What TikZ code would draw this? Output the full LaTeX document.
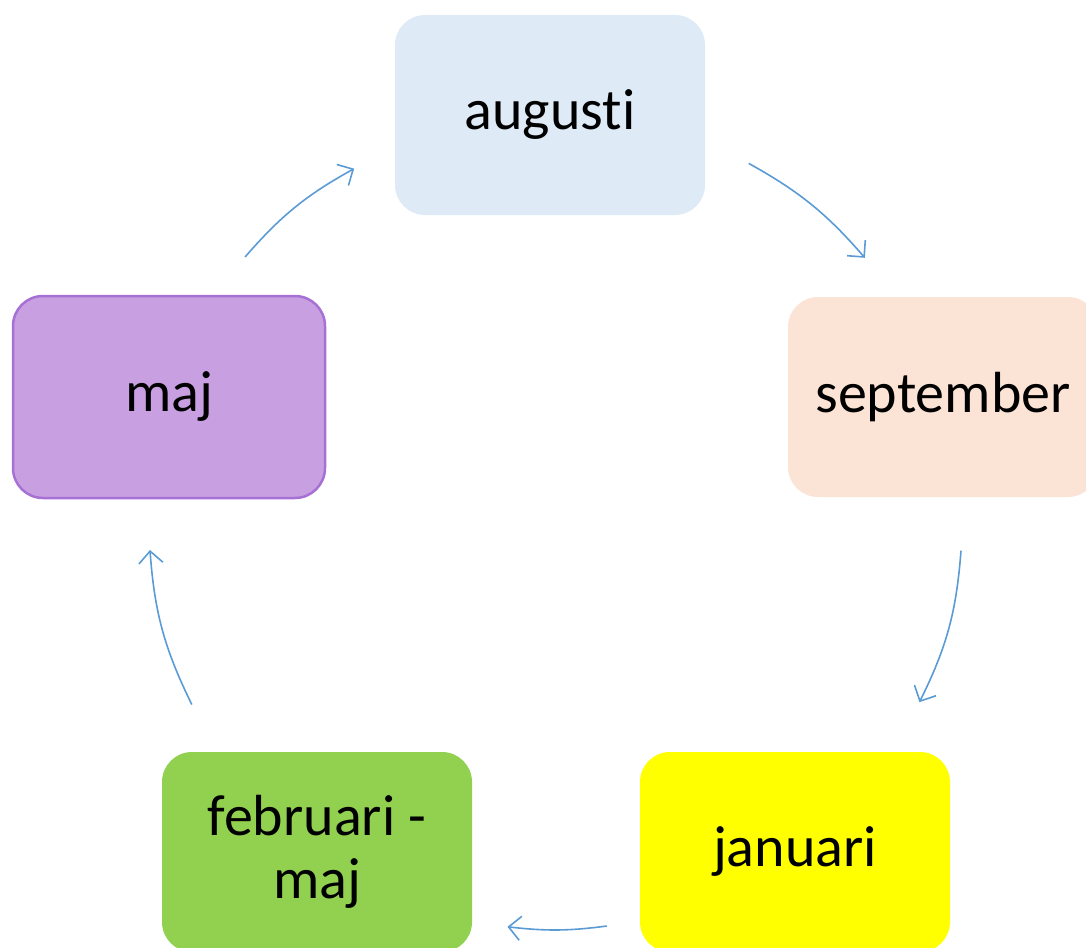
\documentclass[tikz,border=0pt]{standalone}
\usepackage{fontspec}
\setmainfont[Ligatures=NoCommon]{Carlito}
\usepackage{xcolor}
\usetikzlibrary{arrows.meta,positioning,calc}
\definecolor{cycleblue}{RGB}{91,155,213}
\definecolor{augblue}{RGB}{222,234,246}
\definecolor{seppeach}{RGB}{251,228,213}
\definecolor{majpurple}{RGB}{200,160,226}
\definecolor{majedge}{RGB}{167,112,213}
\definecolor{janyellow}{RGB}{255,255,0}
\definecolor{febgreen}{RGB}{146,208,80}

\begin{document}
\begin{tikzpicture}[x=1pt, y=1pt,
		month/.style={rectangle, rounded corners=30pt, minimum width=310pt, minimum height=200pt, align=center, font=\fontsize{58}{63}\selectfont},
		cyclearrow/.style={cycleblue, line width=1.6pt, -{Straight Barb[length=12pt, width=24pt, line width=1.6pt]}}]
				% Page frame
				\clip (0,0) rectangle (1086,-947);
				\useasboundingbox (0,0) rectangle (1086,-947);
				
				% Draw the five month boxes
				\node[month, fill=augblue] (augusti) at (550,-115) {augusti};
				\node[month, fill=seppeach] (september) at (943,-397) {september};
				\node[month, fill=janyellow] (januari) at (795,-852) {januari};
				\node[month, fill=febgreen] (februari) at (317,-852) {februari -\\maj};
				\node[month, fill=majpurple, draw=majedge, line width=2.5pt, minimum width=312pt, minimum height=202pt] (maj) at (169,-397) {maj};
				
				% Arrow ends on the cycle circle
				\coordinate (mid) at (550,-522);
				\coordinate (a1) at ($(mid)+(139:404)$);
				\coordinate (a2) at ($(mid)+(119:404)$);
				\coordinate (b1) at ($(mid)+(61:410)$);
				\coordinate (b2) at ($(mid)+(40:411)$);
				\coordinate (c1) at ($(mid)+(-4:412)$);
				\coordinate (c2) at ($(mid)+(-26:411)$);
				\coordinate (d1) at ($(mid)+(-82:408)$);
				\coordinate (d2) at ($(mid)+(-96:407)$);
				\coordinate (e1) at ($(mid)+(207:402)$);
				\coordinate (e2) at ($(mid)+(184:401)$);
				
				% Cycle connections
				\draw[cyclearrow] (a1) to[bend left=10] (a2);
				\draw[cyclearrow] (b1) to[bend left=10] (b2);
				\draw[cyclearrow] (c1) to[bend left=11] (c2);
				\draw[cyclearrow] (d1) to[bend left=7] (d2);
				\draw[cyclearrow] (e1) to[bend left=11] (e2);
			\end{tikzpicture}
\end{document}
